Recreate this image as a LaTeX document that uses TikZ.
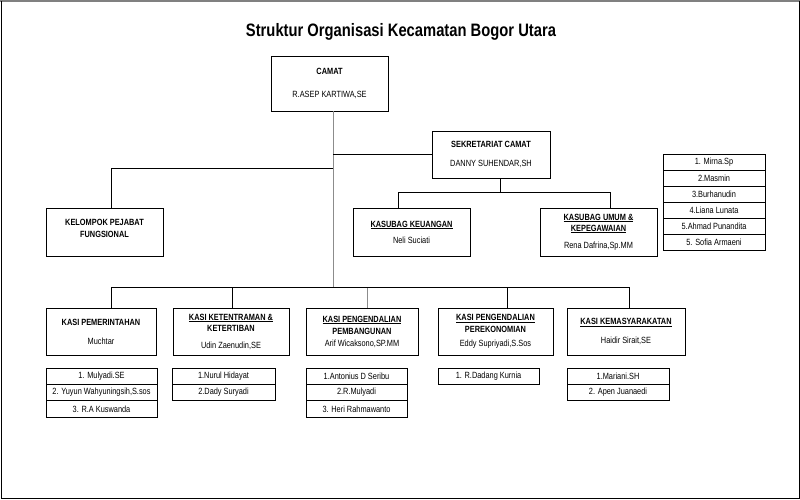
\documentclass[tikz,border=0pt]{standalone}
\usepackage{fontspec}
\setmainfont{Liberation Sans}[FakeStretch=0.82]
\usetikzlibrary{shadows}
\tikzstyle{kotak}=[rectangle, draw, fill=white, inner sep=0pt, align=center, font=\fontsize{9}{11}\selectfont, drop shadow={shadow xshift=1.2pt, shadow yshift=-1.2pt, fill=gray, opacity=0.8}]
\tikzstyle{daftar}=[rectangle, draw, fill=white, inner sep=0pt, minimum height=16.3pt, font=\fontsize{9}{11}\selectfont]
\providecommand{\kotak}{\node[kotak]}
\providecommand{\daftar}{\node[daftar]}

\begin{document}
\begin{tikzpicture}[x=1pt, y=-1pt,
    every edge/.style={draw, line width=0.8pt},
    siku/.style={to path={|- (\tikztotarget)}}
]
\useasboundingbox (0,0) rectangle (800,500);
\draw[gray, line width=2pt] (0,1.5) -- (800,1.5);
\draw[line width=1pt] (1,1.5) -- (1,498.5) -- (799,498.5) -- (799,1.5);
\node (judul) at (401,32) {\fontsize{18}{20}\selectfont\bfseries Struktur Organisasi Kecamatan Bogor Utara};
\kotak (camat) at (329.5,83.5) [minimum width=117, minimum height=55] {\textbf{CAMAT}\\[12pt]R.ASEP KARTIWA,SE};
\kotak (sekcam) at (491,154.5) [minimum width=118, minimum height=47] {\textbf{SEKRETARIAT CAMAT}\\[8pt]DANNY SUHENDAR,SH};
\kotak (fungsional) at (104.5,232) [minimum width=117, minimum height=48] {\textbf{KELOMPOK PEJABAT}\\[1pt]\textbf{FUNGSIONAL}\\[-3pt]\mbox{}};
\kotak (keuangan) at (411.5,232) [minimum width=117, minimum height=48] {\underline{\textbf{KASUBAG KEUANGAN}}\\[5pt]Neli Suciati};
\kotak (umum) at (598.5,232) [minimum width=117, minimum height=48] {\underline{\textbf{KASUBAG UMUM \&}}\\\underline{\textbf{KEPEGAWAIAN}}\\[6pt]Rena Dafrina,Sp.MM};
\kotak (pemerintahan) at (101,331.5) [minimum width=110, minimum height=47] {\textbf{KASI PEMERINTAHAN}\\[8pt]Muchtar};
\kotak (ketentraman) at (231,331.5) [minimum width=116, minimum height=47] {\underline{\textbf{KASI KETENTRAMAN \&}}\\\textbf{KETERTIBAN}\\[6pt]Udin Zaenudin,SE};
\kotak (pembangunan) at (362,331.5) [minimum width=112, minimum height=47] {\underline{\textbf{KASI PENGENDALIAN}}\\[1pt]\textbf{PEMBANGUNAN}\\[1pt]Arif Wicaksono,SP.MM};
\kotak (perekonomian) at (495.5,331.5) [minimum width=115, minimum height=47] {\underline{\textbf{KASI PENGENDALIAN}}\\[1pt]\textbf{PEREKONOMIAN}\\[3pt]Eddy Supriyadi,S.Sos};
\kotak (kemasyarakatan) at (626,331.5) [minimum width=118, minimum height=47] {\underline{\textbf{KASI KEMASYARAKATAN}}\\[8pt]Haidir Sirait,SE};
% staf sekretariat
\daftar (staf1) at (714,162) [minimum width=102, minimum height=16] {1. Mirna.Sp};
\daftar (staf2) at (714,178) [minimum width=102, minimum height=16] {2.Masmin};
\daftar (staf3) at (714,194) [minimum width=102, minimum height=16] {3.Burhanudin};
\daftar (staf4) at (714,210) [minimum width=102, minimum height=16] {4.Liana Lunata};
\daftar (staf5) at (714,226) [minimum width=102, minimum height=16] {5.Ahmad Punandita};
\daftar (staf6) at (714,242) [minimum width=102, minimum height=16] {5. Sofia Armaeni};
% staf kasi
\daftar (pem1) at (101.5,376.2) [minimum width=111] {1. Mulyadi.SE};
\daftar (pem2) at (101.5,392.5) [minimum width=111] {2. Yuyun Wahyuningsih,S.sos};
\daftar (pem3) at (101.5,408.8) [minimum width=111] {3. R.A Kuswanda};
\daftar (ket1) at (223.5,376.2) [minimum width=103] {1.Nurul Hidayat};
\daftar (ket2) at (223.5,392.5) [minimum width=103] {2.Dady Suryadi};
\daftar (bang1) at (356.5,376.2) [minimum width=101] {1.Antonius D Seribu};
\daftar (bang2) at (356.5,392.5) [minimum width=101] {2.R.Mulyadi};
\daftar (bang3) at (356.5,408.8) [minimum width=101] {3. Heri Rahmawanto};
\daftar (eko1) at (488.5,376.2) [minimum width=101] {1. R.Dadang Kurnia};
\daftar (mas1) at (618,376.2) [minimum width=102] {1.Mariani.SH};
\daftar (mas2) at (618,392.5) [minimum width=102] {2. Apen Juanaedi};
\coordinate (trunk) at (333,287);
\coordinate (cabfung) at (333,168);
\coordinate (sekbawah) at (500,192);
\path
([xshift=3.5]camat.south) edge[gray!90, line width=1pt] (trunk)
(sekcam.west) edge (sekcam.west -| trunk)
([xshift=6.5]fungsional.north) edge[siku] (cabfung)
([xshift=9]sekcam.south) edge (sekbawah)
([xshift=-13.5]keuangan.north) edge[siku] (sekbawah)
([xshift=11.5]umum.north) edge[siku] (sekbawah)
([xshift=10]pemerintahan.north) edge[siku] (trunk)
([xshift=1]ketentraman.north) edge[siku] (trunk)
([xshift=5]pembangunan.north) edge[siku, gray!90, line width=1pt] (trunk)
([xshift=11.5]perekonomian.north) edge[siku] (trunk)
([xshift=3]kemasyarakatan.north) edge[siku] (trunk)
;
\end{tikzpicture}
\end{document}
